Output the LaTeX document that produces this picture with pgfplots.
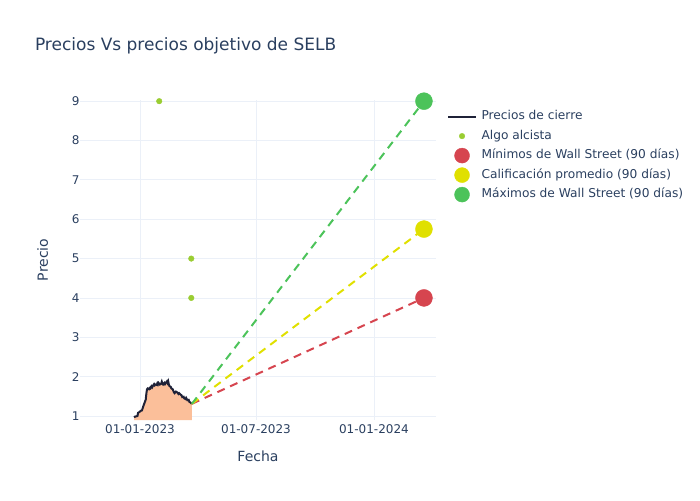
\documentclass[border=0pt]{standalone}
\usepackage{fontspec}
\setmainfont{DejaVu Sans}
\usepackage{pgfplots}
\pgfplotsset{compat=1.18}
\definecolor{txt}{HTML}{2A3F5F}
\definecolor{gridc}{HTML}{EBF0F8}
\definecolor{closec}{HTML}{1F2238}
\definecolor{areac}{HTML}{FBBF9A}
\definecolor{algoc}{HTML}{9ACD32}
\definecolor{lowc}{HTML}{D6454F}
\definecolor{avgc}{HTML}{E0E000}
\definecolor{highc}{HTML}{4CC35A}
\pgfplotsset{
  dotleg/.style={legend image code/.code={\draw[##1] plot coordinates {(14pt,0pt)};}},
  bigleg/.style={legend image code/.code={\draw[##1,mark size=7.5pt] plot coordinates {(14pt,0pt)};}},
  lineleg/.style={legend image code/.code={\draw[##1] (0pt,0pt) -- (28pt,0pt);}},
  target/.style={dash pattern=on 8pt off 6pt, line width=2pt, forget plot},
}

% days counted from 01-01-2023
\pgfplotstableread{
d p
-9 1.00
-8 0.98
-6 0.99
-4 1.00
-3 1.08
-1 1.10
1 1.13
3 1.14
5 1.24
7 1.33
9 1.42
10 1.58
11 1.68
12 1.70
13 1.69
14 1.68
15 1.71
16 1.70
17 1.74
18 1.76
19 1.73
20 1.76
22 1.81
23 1.78
24 1.80
26 1.79
27 1.83
28 1.80
29 1.84
31 1.80
33 1.82
34 1.87
35 1.82
36 1.80
38 1.84
39 1.81
41 1.86
42 1.88
43 1.84
44 1.88
45 1.80
46 1.76
48 1.74
49 1.70
51 1.68
53 1.60
54 1.58
56 1.62
58 1.60
60 1.56
61 1.58
63 1.55
65 1.52
66 1.48
68 1.49
69 1.45
71 1.43
72 1.46
74 1.40
76 1.41
77 1.36
79 1.34
81 1.31
}\closes

\begin{document}
\begin{tikzpicture}[x=1pt,y=1pt]
\useasboundingbox (0,0) rectangle (700,500);
\node[anchor=base west, text=txt, font=\fontsize{17}{20}\selectfont] at (31.5,449) {Precios Vs precios objetivo de SELB};
\begin{axis}[
  at={(80pt,80pt)}, anchor=south west,
  scale only axis, width=356pt, height=320pt,
  xmin=-93.6, xmax=461.8, ymin=0.898, ymax=9.03,
  axis line style={draw=none},
  major tick length=0pt,
  xtick={0,181,365},
  xticklabels={01-01-2023,01-07-2023,01-01-2024},
  ytick={1,2,...,9},
  grid=major,
  grid style={gridc, line width=0.8pt},
  tick label style={text=txt, font=\fontsize{12}{14}\selectfont},
  /pgf/number format/assume math mode=true,
  xticklabel style={yshift=-1pt},
  yticklabel style={xshift=3pt},
  xlabel={Fecha}, ylabel={Precio},
  label style={text=txt, font=\fontsize{14}{16}\selectfont},
  xlabel style={yshift=-10pt},
  ylabel style={yshift=17pt},
  legend style={at={(1.022,0.98)}, anchor=north west, draw=none, fill=none,
    font=\fontsize{12.2}{15}\selectfont, text=txt,
    nodes={text height=9pt, text depth=3pt, inner xsep=4.5pt}, row sep=3.5pt},
  legend cell align=left,
]
\addplot[draw=none, fill=areac, forget plot] table[x=d,y=p] {\closes} \closedcycle;
\addplot[closec, line width=2pt, lineleg] table[x=d,y=p] {\closes};
\addlegendentry{Precios de cierre}
\addplot[only marks, mark=*, mark size=2.8pt, algoc, dotleg]
  coordinates {(30,9) (80,5) (80,4)};
\addlegendentry{Algo alcista}
\addplot[lowc, target] coordinates {(81,1.31) (443,4)};
\addplot[avgc, target] coordinates {(81,1.31) (443,5.75)};
\addplot[highc, target] coordinates {(81,1.31) (443,9)};
\addplot[only marks, mark=*, mark size=8.5pt, lowc, bigleg]
  coordinates {(443,4)};
\addlegendentry{Mínimos de Wall Street (90 días)}
\addplot[only marks, mark=*, mark size=8.5pt, avgc, bigleg]
  coordinates {(443,5.75)};
\addlegendentry{Calificación promedio (90 días)}
\addplot[only marks, mark=*, mark size=8.5pt, highc, bigleg]
  coordinates {(443,9)};
\addlegendentry{Máximos de Wall Street (90 días)}
\end{axis}
\end{tikzpicture}
\end{document}
